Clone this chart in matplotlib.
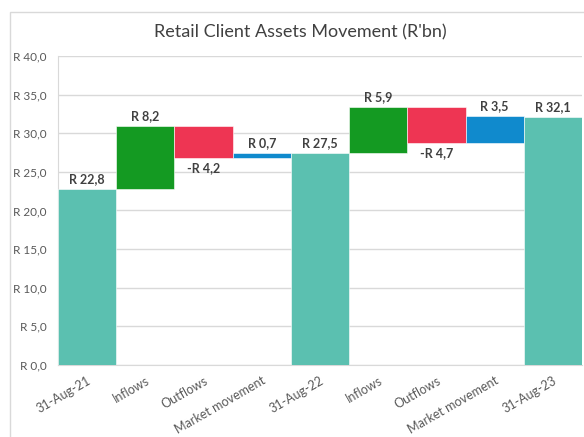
import matplotlib.pyplot as plt
import numpy as np
from matplotlib.patches import Rectangle

plt.rcParams["font.family"] = ["Lato", "DejaVu Sans"]

categories = ["31-Aug-21", "Inflows", "Outflows", "Market movement", "31-Aug-22",
              "Inflows", "Outflows", "Market movement", "31-Aug-23"]
values = [22.8, 8.2, -4.2, 0.7, 27.5, 5.9, -4.7, 3.5, 32.1]
kinds = ["total", "in", "out", "market", "total", "in", "out", "market", "total"]
yticks = [0, 5, 10, 15, 20, 25, 30, 35, 40]

colors = {"total": "#5BC0B0", "in": "#149A22", "out": "#EE3553", "market": "#108ACD"}


def rand_fmt(v):
    s = "R {:.1f}".format(abs(v)).replace(".", ",")
    return "-" + s if v < 0 else s


# bases for the floating bars from the running total
bottoms = []
heights = []
running = 0.0
for v, k in zip(values, kinds):
    if k == "total":
        bottoms.append(0)
        heights.append(v)
        running = v
    else:
        bottoms.append(running if v >= 0 else running + v)
        heights.append(abs(v))
        running += v

fig = plt.figure(figsize=(5.84, 4.37), dpi=100)
# outer chart border like the Excel chart area
fig.patches.append(Rectangle((10 / 584, -0.01), 1.0, 1 - 12 / 437 + 0.01,
                             transform=fig.transFigure, fill=False,
                             edgecolor="#D9D9D9", linewidth=1))
ax = fig.add_axes([58 / 584, 72 / 437, 524 / 584, 309 / 437])

x = np.arange(len(categories))
ax.bar(x, heights, bottom=bottoms, width=1.0,
       color=[colors[k] for k in kinds], edgecolor="white", linewidth=0.4, zorder=3)

for i, v in enumerate(values):
    top = bottoms[i] + heights[i]
    if kinds[i] == "out":
        ax.text(i, bottoms[i] - 0.5, rand_fmt(v), ha="center", va="top",
                fontsize=9, fontweight="bold", color="#404040")
    else:
        ax.text(i, top + 0.5, rand_fmt(v), ha="center", va="bottom",
                fontsize=9, fontweight="bold", color="#404040")

ax.set_xlim(-0.5, len(categories) - 0.5)
ax.set_ylim(0, 40)
ax.set_yticks(yticks)
ax.set_yticklabels(["R {:.1f}".format(t).replace(".", ",") for t in yticks],
                   fontsize=8.5, color="#595959")
ax.set_xticks(x)
ax.set_xticklabels(categories, rotation=30, ha="right", rotation_mode="anchor",
                   fontsize=9, color="#595959")
ax.tick_params(length=0, pad=8)
ax.tick_params(axis="x", pad=7)
ax.grid(axis="y", color="#D9D9D9", linewidth=1, zorder=0)
for s in ["top", "right"]:
    ax.spines[s].set_visible(False)
ax.spines["left"].set_color("#D9D9D9")
ax.spines["bottom"].set_color("#D9D9D9")

fig.text(300 / 584, 1 - 32 / 437, "Retail Client Assets Movement (R'bn)",
         ha="center", va="center", fontsize=13, color="#404040")

fig.savefig("out.png", dpi=100)
